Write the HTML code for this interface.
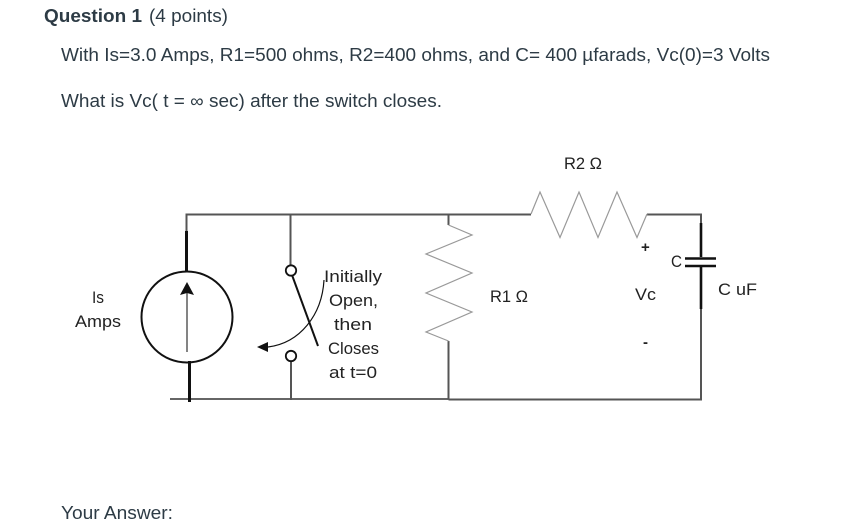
<!DOCTYPE html>
<html>
<head>
<meta charset="utf-8">
<style>
html,body{margin:0;padding:0;background:#fff;width:845px;height:531px;overflow:hidden}
svg{display:block}
text{font-family:"Liberation Sans",sans-serif}
.q{fill:#2d3b45;font-size:18px}
.d{fill:#222;font-size:17px}
</style>
</head>
<body>
<svg width="845" height="531" viewBox="0 0 845 531" xmlns="http://www.w3.org/2000/svg">
<rect width="845" height="531" fill="#fff"/>
<text class="q" x="44" y="22" font-weight="bold" textLength="98" lengthAdjust="spacingAndGlyphs">Question 1</text>
<text class="q" x="149" y="22" textLength="79" lengthAdjust="spacingAndGlyphs">(4 points)</text>
<text class="q" x="61" y="61" textLength="709" lengthAdjust="spacingAndGlyphs">With Is=3.0 Amps, R1=500 ohms, R2=400 ohms, and C= 400 µfarads, Vc(0)=3 Volts</text>
<text class="q" x="61" y="107" textLength="381" lengthAdjust="spacingAndGlyphs">What is Vc( t = ∞ sec) after the switch closes.</text>
<text class="q" x="61" y="519" textLength="112" lengthAdjust="spacingAndGlyphs">Your Answer:</text>

<g fill="none" stroke="#555" stroke-width="2">
<path d="M186.500 231V214.500H531"/>
<path d="M647 214.500H701V223"/>
<path d="M701 309V399.500H448.500"/>
<path d="M170 399H449" stroke="#666"/>
<path d="M448.500 214.500V225"/>
<path d="M448.500 341V399.500"/>
<path d="M290.500 214.500V265"/>
<path d="M291 362V400"/>
</g>
<g fill="none" stroke="#999" stroke-width="1.200">
<path d="M531 214L540 192L560 237.500L579 192L598 237.500L617 192L637 237.500L647 214"/>
<path d="M448.500 225L472 235L426 254L472 273L426 293L472 312L426 332L448.500 341"/>
</g>

<g fill="none" stroke="#111">
<circle cx="187" cy="317" r="45.500" stroke-width="2"/>
<path d="M186.500 231V272" stroke-width="3"/>
<path d="M189.500 361V402" stroke-width="3"/>
<path d="M187 352V290" stroke-width="1.200" stroke="#333"/>
<circle cx="291" cy="270.500" r="5.200" stroke-width="1.800"/>
<circle cx="291" cy="356" r="5.200" stroke-width="1.800"/>
<path d="M292 275L318 346" stroke-width="2"/>
<path d="M324 280C322 315 300 343 268 347" stroke-width="1.200"/>
<path d="M701 223V257M701 267V309" stroke-width="2.600"/>
<path d="M685 258.500H716M685 266H716" stroke-width="2.400"/>
</g>
<path d="M187 282L180 295L187 293L194 295Z" fill="#111"/>
<path d="M257 347L268 342L268 352Z" fill="#111"/>

<g class="d" lengthAdjust="spacingAndGlyphs">
<text x="92" y="303" textLength="12" lengthAdjust="spacingAndGlyphs">Is</text>
<text x="75" y="327" textLength="46" lengthAdjust="spacingAndGlyphs">Amps</text>
<text x="324" y="282" textLength="58" lengthAdjust="spacingAndGlyphs">Initially</text>
<text x="329" y="306" textLength="49" lengthAdjust="spacingAndGlyphs">Open,</text>
<text x="334" y="330" textLength="38" lengthAdjust="spacingAndGlyphs">then</text>
<text x="328" y="354" textLength="51" lengthAdjust="spacingAndGlyphs">Closes</text>
<text x="329" y="378" textLength="48" lengthAdjust="spacingAndGlyphs">at t=0</text>
<text x="564" y="169" textLength="38" lengthAdjust="spacingAndGlyphs">R2 Ω</text>
<text x="490" y="302" textLength="38" lengthAdjust="spacingAndGlyphs">R1 Ω</text>
<text x="635" y="300" textLength="21" lengthAdjust="spacingAndGlyphs">Vc</text>
<text x="718" y="295" textLength="39" lengthAdjust="spacingAndGlyphs">C  uF</text>
<text x="671" y="267" textLength="11" lengthAdjust="spacingAndGlyphs">C</text>
<text x="641" y="252" font-size="15" font-weight="bold">+</text>
<text x="643" y="347" font-size="15" font-weight="bold">-</text>
</g>
</svg>
</body>
</html>
